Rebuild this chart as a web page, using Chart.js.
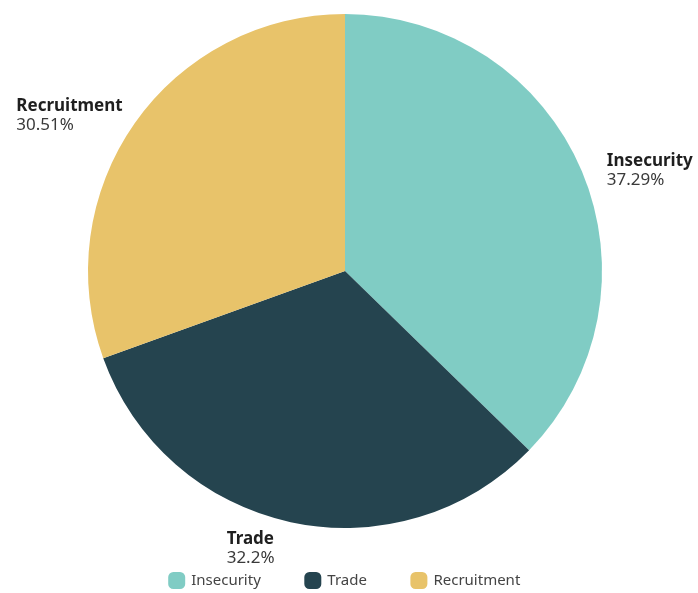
<!DOCTYPE html>
<html lang="en">
  <head>
    <meta charset="UTF-8" />
    <title>Pie</title>
    <script src="https://cdn.jsdelivr.net/npm/chart.js"></script>
    <style>
      html, body { margin: 0; padding: 0; background: #fff; }
      #wrap { width: 698px; height: 593px; position: relative; }
    </style>
  </head>
  <body>
    <div id="wrap">
      <canvas id="myChart"></canvas>
    </div>
    <script>
      const categories = ["Insecurity", "Trade", "Recruitment"];
      const shares = [37.29, 32.2, 30.51];
      const colors = ["#80ccc4", "#25444f", "#e8c36a"];

      // where each two-line label sits relative to the outer mid point of its slice
      // mode "left": text starts at dx; "right": bold line ends at dx
      const labelPlace = [
        { dx: 25, dy: -10, mode: "left" },
        { dx: -64, dy: 17, mode: "left" },
        { dx: -12, dy: -17, mode: "right" },
      ];

      const outsideLabels = {
        id: "outsideLabels",
        afterDatasetsDraw(chart) {
          const ctx = chart.ctx;
          const meta = chart.getDatasetMeta(0);
          meta.data.forEach((arc, i) => {
            const p = arc.getProps(["x", "y", "startAngle", "endAngle", "outerRadius"], true);
            const mid = (p.startAngle + p.endAngle) / 2;
            const r = p.outerRadius;
            const place = labelPlace[i];
            const ax = p.x + Math.cos(mid) * r + place.dx;
            const ay = p.y + Math.sin(mid) * r + place.dy;
            ctx.save();
            ctx.textAlign = "left";
            ctx.textBaseline = "middle";
            ctx.font = "bold 17px 'Noto Sans'";
            const w = ctx.measureText(categories[i]).width;
            const x = place.mode === "right" ? ax - w : ax;
            ctx.fillStyle = "#1f1f1f";
            ctx.fillText(categories[i], x, ay);
            ctx.fillStyle = "#3a3a3a";
            ctx.font = "17px 'Noto Sans'";
            ctx.fillText(shares[i] + "%", x, ay + 19);
            ctx.restore();
          });
        },
      };

      new Chart(document.getElementById("myChart"), {
        type: "pie",
        data: {
          labels: categories,
          datasets: [
            {
              data: shares,
              backgroundColor: colors,
              borderWidth: 0,
            },
          ],
        },
        options: {
          responsive: true,
          maintainAspectRatio: false,
          animation: false,
          layout: { padding: { top: 14, right: 8, bottom: -5 } },
          plugins: {
            tooltip: { enabled: false },
            legend: {
              position: "bottom",
              labels: {
                usePointStyle: true,
                pointStyle: "rectRounded",
                boxWidth: 14,
                boxHeight: 14,
                padding: 45,
                color: "#444",
                font: { family: "'Noto Sans'", size: 15 },
              },
            },
          },
        },
        plugins: [outsideLabels],
      });
    </script>
  </body>
</html>
